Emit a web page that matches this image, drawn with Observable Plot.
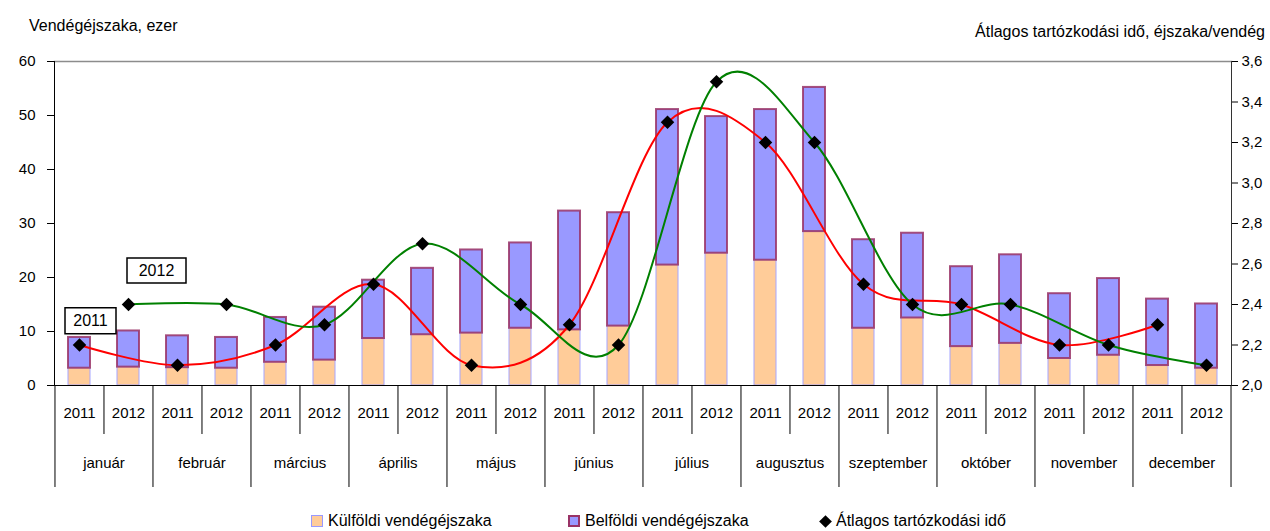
<!DOCTYPE html>
<html>
<head>
<meta charset="utf-8">
<script src="https://cdn.jsdelivr.net/npm/d3@7"></script>
<script src="https://cdn.jsdelivr.net/npm/@observablehq/plot@0.6"></script>
<style>
  body { margin: 0; background: #fff; font-family: "Liberation Sans", Arial, sans-serif; }
  #wrap { position: relative; width: 1270px; height: 531px; overflow: hidden; }
  #chart { position: absolute; left: 0; top: 0; }
  .axt { position: absolute; font-size: 16px; color: #000; white-space: nowrap; }
  .li { position: absolute; top: 512px; display: flex; align-items: center; font-size: 16px; white-space: nowrap; }
  .sw { width: 12px; height: 12px; box-sizing: border-box; margin-right: 5px; }
  .dia { width: 9px; height: 9px; background: #000; transform: rotate(45deg); margin-right: 6px; margin-left: 2px; }
</style>
</head>
<body>
<div id="wrap">
  <div id="chart"></div>
  <div class="axt" style="left:29px; top:17px;">Vendégéjszaka, ezer</div>
  <div class="axt" style="right:5px; top:23px;">Átlagos tartózkodási idő, éjszaka/vendég</div>
  <div class="li" style="left:311px;"><div class="sw" style="background:#FFCC99;border:1px solid #9999FF;"></div>Külföldi vendégéjszaka</div>
  <div class="li" style="left:568px;"><div class="sw" style="background:#9999FF;border:2px solid #993366;"></div>Belföldi vendégéjszaka</div>
  <div class="li" style="left:819px;"><div class="dia"></div>Átlagos tartózkodási idő</div>
</div>
<script>
// ---- data ----
const months = ["január","február","március","április","május","június","július","augusztus","szeptember","október","november","december"];
const years = ["2011","2012"];
const kulfoldi2011 = [3.2, 3.3, 4.3, 8.7, 9.7, 10.3, 22.3, 23.2, 10.6, 7.2, 5.0, 3.7];
const kulfoldi2012 = [3.4, 3.2, 4.7, 9.4, 10.6, 11.0, 24.5, 28.5, 12.5, 7.8, 5.6, 3.2];
const belfoldi2011 = [5.7, 5.9, 8.3, 10.8, 15.4, 22.0, 28.8, 27.9, 16.4, 14.8, 12.0, 12.3];
const belfoldi2012 = [6.7, 5.7, 9.8, 12.3, 15.8, 21.0, 25.3, 26.7, 15.7, 16.4, 14.2, 11.9];
const atlag2011 = [2.2, 2.1, 2.2, 2.5, 2.1, 2.3, 3.3, 3.2, 2.5, 2.4, 2.2, 2.3];
const atlag2012 = [2.4, 2.4, 2.3, 2.7, 2.4, 2.2, 3.5, 3.2, 2.4, 2.4, 2.2, 2.1];
const leftTicks = [0, 10, 20, 30, 40, 50, 60];
const rightTicks = [2.0, 2.2, 2.4, 2.6, 2.8, 3.0, 3.2, 3.4, 3.6];
const annotLabels = ["2011", "2012"];
const annotYears = ["2011", "2012"];
const annotMonths = ["január", "január"];
const annotValues = [12.0, 21.3];

// ---- build table ----
const kul = {"2011": kulfoldi2011, "2012": kulfoldi2012};
const bel = {"2011": belfoldi2011, "2012": belfoldi2012};
const atl = {"2011": atlag2011, "2012": atlag2012};
const keyOf = (y, m) => y + "|" + m;
const rows = months.flatMap((m, i) => years.map(y => ({
  key: keyOf(y, m), year: y, month: m, k: kul[y][i], b: bel[y][i], a: atl[y][i]
})));
const keys = rows.map(d => d.key);

// secondary axis mapping onto the primary y scale
const dur = d3.scaleLinear([2.0, 3.6], [0, 60]);

const W = 1270, H = 490, mL = 54, mR = 39, mT = 61, mB = 105;
const step = (W - mL - mR) / keys.length;
const font = "Liberation Sans, Arial, sans-serif";

const annots = annotLabels.map((t, i) => ({label: t, key: keyOf(annotYears[i], annotMonths[i]), v: annotValues[i]}));
const boxSym = (w, h) => ({draw(ctx) { ctx.moveTo(-w/2, -h/2); ctx.lineTo(w/2, -h/2); ctx.lineTo(w/2, h/2); ctx.lineTo(-w/2, h/2); ctx.closePath(); }});

const chart = Plot.plot({
  width: W, height: H,
  marginLeft: mL, marginRight: mR, marginTop: mT, marginBottom: mB,
  style: {fontFamily: font, fontSize: "15px", color: "#000", background: "#fff", overflow: "visible"},
  x: {type: "band", domain: keys, paddingInner: 0.56, paddingOuter: 0.28, axis: null},
  y: {domain: [0, 60], axis: null},
  marks: [
    // bars
    Plot.barY(rows, {x: "key", y1: 0, y2: "k", fill: "#FFCC99", stroke: "#A6A6FF", strokeWidth: 1}),
    Plot.barY(rows, {x: "key", y1: "k", y2: d => d.k + d.b, fill: "#9999FF", stroke: "#993366", strokeOpacity: 0.85, strokeWidth: 2}),
    // frame
    Plot.frame({anchor: "top", stroke: "#8c8c8c", strokeWidth: 1.5}),
    Plot.frame({anchor: "left", stroke: "#000"}),
    Plot.frame({anchor: "right", stroke: "#333"}),
    Plot.ruleY([0], {stroke: "#000"}),
    // left axis
    Plot.axisY(leftTicks, {anchor: "left", tickSize: 7, tickPadding: 12, label: null, fontSize: 15}),
    // right axis
    Plot.axisY(rightTicks.map(t => dur(t)), {anchor: "right", tickSize: 6, tickPadding: 4, label: null, fontSize: 15,
      tickFormat: v => dur.invert(v).toFixed(1).replace(".", ",")}),
    // x axis separators: year ticks and month separators
    Plot.axisX(rows.filter(d => d.year === "2012").map(d => d.key), {tickSize: 49, dx: -step / 2, fill: "none", label: null, stroke: "#000"}),
    Plot.axisX(rows.filter(d => d.year === "2011").map(d => d.key), {tickSize: 102, dx: -step / 2, fill: "none", label: null, stroke: "#000"}),
    Plot.axisX([keys[keys.length - 1]], {tickSize: 102, dx: step / 2, fill: "none", label: null, stroke: "#000"}),
    // x axis labels
    Plot.text(rows, {x: "key", text: "year", frameAnchor: "bottom", dy: 32, fontSize: 15, fill: "#000"}),
    Plot.text(months, {x: m => keyOf("2012", m), text: m => m, dx: -step / 2, frameAnchor: "bottom", dy: 82, fontSize: 15, fill: "#000"}),
    // smoothed lines for average stay
    Plot.line(rows.filter(d => d.year === "2011"), {x: "key", y: d => dur(d.a), stroke: "#FF0000", strokeWidth: 2, curve: "cardinal", tension: 0}),
    Plot.line(rows.filter(d => d.year === "2012"), {x: "key", y: d => dur(d.a), stroke: "#008000", strokeWidth: 2, curve: "cardinal", tension: 0}),
    Plot.dot(rows, {x: "key", y: d => dur(d.a), symbol: "square", rotate: 45, r: 5.4, fill: "#000", stroke: "none"}),
    // annotation boxes
    Plot.dot(annots.slice(0, 1), {x: "key", y: "v", dx: 11, symbol: boxSym(51, 26), fill: "#fff", stroke: "#000", strokeWidth: 1.5}),
    Plot.dot(annots.slice(1, 2), {x: "key", y: "v", dx: 28, symbol: boxSym(59, 25), fill: "#fff", stroke: "#000", strokeWidth: 1.5}),
    Plot.text(annots.slice(0, 1), {x: "key", y: "v", dx: 11, text: "label", fontSize: 16, fill: "#000"}),
    Plot.text(annots.slice(1, 2), {x: "key", y: "v", dx: 28, text: "label", fontSize: 16, fill: "#000"})
  ]
});
document.getElementById("chart").appendChild(chart);
</script>
</body>
</html>
